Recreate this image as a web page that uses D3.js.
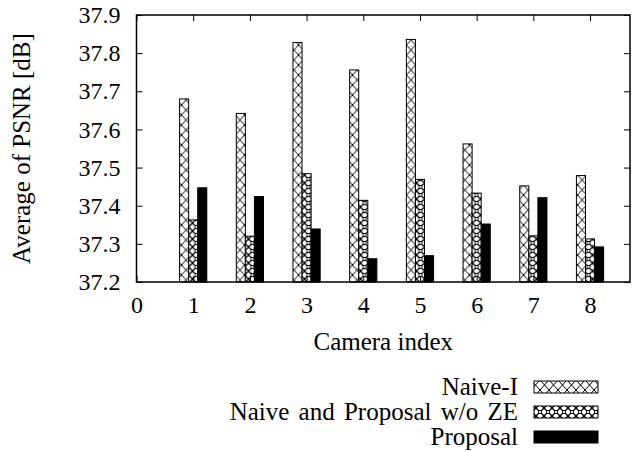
<!DOCTYPE html>
<html>
<head>
<meta charset="utf-8">
<script src="https://cdn.jsdelivr.net/npm/d3@7"></script>
<style>
  body { margin: 0; background: #fff; }
  svg text { font-family: "Liberation Serif", "Times New Roman", Times, "DejaVu Serif", serif !important; fill: #000; }
</style>
</head>
<body>
<div id="chart"></div>
<script>
// data
var cameras = [1, 2, 3, 4, 5, 6, 7, 8];
var naiveI = [37.680, 37.642, 37.828, 37.756, 37.836, 37.562, 37.452, 37.479];
var naiveNoZE = [37.363, 37.320, 37.484, 37.414, 37.469, 37.433, 37.321, 37.313];
var proposal = [37.447, 37.424, 37.339, 37.261, 37.269, 37.352, 37.421, 37.292];
var xTicks = [0, 1, 2, 3, 4, 5, 6, 7, 8];
var yTicks = [37.2, 37.3, 37.4, 37.5, 37.6, 37.7, 37.8, 37.9];
var seriesNames = ["Naive-I", "Naive and Proposal w/o ZE", "Proposal"];

var W = 642, H = 452;
var margin = {top: 15, right: 12, bottom: 170, left: 136.5};
var width = W - margin.left - margin.right,
    height = H - margin.top - margin.bottom;
var tickFont = "24px", labelFont = "25px";

var svg = d3.select("#chart").append("svg")
    .attr("width", W)
    .attr("height", H)
    .attr("font-family", "Liberation Serif");

// fill patterns
var defs = svg.append("defs");
var p1 = defs.append("pattern")
    .attr("id", "cross")
    .attr("patternUnits", "userSpaceOnUse")
    .attr("width", 9).attr("height", 10);
p1.append("rect").attr("width", 9).attr("height", 10).attr("fill", "#fff");
p1.append("path").attr("d", "M0,0L9,10M9,0L0,10")
    .attr("stroke", "#000").attr("stroke-width", 1);

var p2 = defs.append("pattern")
    .attr("id", "dense")
    .attr("patternUnits", "userSpaceOnUse")
    .attr("width", 8).attr("height", 8);
p2.append("rect").attr("width", 8).attr("height", 8).attr("fill", "#fff");
p2.append("path").attr("d", "M0,0L8,8M8,0L0,8")
    .attr("stroke", "#000").attr("stroke-width", 1.3);
p2.append("circle").attr("cx", 4).attr("cy", 4).attr("r", 1.6)
    .attr("fill", "#fff").attr("stroke", "#000").attr("stroke-width", 0.9);

var fills = ["url(#cross)", "url(#dense)", "#000"];

var g = svg.append("g")
    .attr("transform", "translate(" + margin.left + "," + margin.top + ")");

var x = d3.scaleLinear().domain([0, 8.705]).range([0, width]);
var y = d3.scaleLinear().domain([37.2, 37.9]).range([height, 0]);

var barW = 0.16;
var series = [naiveI, naiveNoZE, proposal];

series.forEach(function(vals, s) {
  g.selectAll(".bar" + s)
    .data(cameras)
    .enter().append("rect")
      .attr("x", function(d) { return x(d + (s - 1) * barW - barW / 2); })
      .attr("width", x(barW) - x(0))
      .attr("y", function(d, i) { return y(vals[i]); })
      .attr("height", function(d, i) { return height - y(vals[i]); })
      .attr("fill", fills[s])
      .attr("stroke", "#000")
      .attr("stroke-width", 1);
});

// axes, ticks on all sides pointing inward
var tk = 6;
g.append("g")
    .attr("transform", "translate(0," + height + ")")
    .call(d3.axisBottom(x).tickValues(xTicks).tickSize(-tk).tickPadding(14).tickFormat(d3.format("d")));
g.append("g")
    .call(d3.axisTop(x).tickValues(xTicks).tickSize(-tk).tickFormat(""));
g.append("g")
    .call(d3.axisLeft(y).tickValues(yTicks).tickSize(-tk).tickPadding(16).tickFormat(d3.format(".1f")));
g.append("g")
    .attr("transform", "translate(" + width + ",0)")
    .call(d3.axisRight(y).tickValues(yTicks).tickSize(-tk).tickFormat(""));

g.selectAll(".domain").remove();
g.selectAll(".tick line").attr("stroke", "#000").attr("stroke-width", 1);
g.selectAll("g").attr("font-family", null).attr("font-size", null);
g.selectAll(".tick text").style("font-size", tickFont);

g.append("rect")
    .attr("width", width).attr("height", height)
    .attr("fill", "none").attr("stroke", "#000").attr("stroke-width", 1.5);

// axis titles
svg.append("text")
    .attr("x", margin.left + width / 2)
    .attr("y", 350)
    .attr("text-anchor", "middle")
    .style("font-size", labelFont)
    .text("Camera index");

svg.append("text")
    .attr("transform", "translate(30," + (margin.top + height / 2) + ") rotate(-90)")
    .attr("text-anchor", "middle")
    .style("font-size", labelFont)
    .text("Average of PSNR [dB]");

// legend
var legend = svg.append("g");
seriesNames.forEach(function(name, i) {
  var ly = 387 + i * 25;
  legend.append("text")
    .attr("x", 518).attr("y", ly + 8)
    .attr("text-anchor", "end")
    .style("font-size", labelFont)
    .style("word-spacing", "3px")
    .text(name);
  legend.append("rect")
    .attr("x", 534).attr("y", ly - 6)
    .attr("width", 64).attr("height", 12)
    .attr("fill", fills[i])
    .attr("stroke", "#000").attr("stroke-width", 1);
});
</script>
</body>
</html>
